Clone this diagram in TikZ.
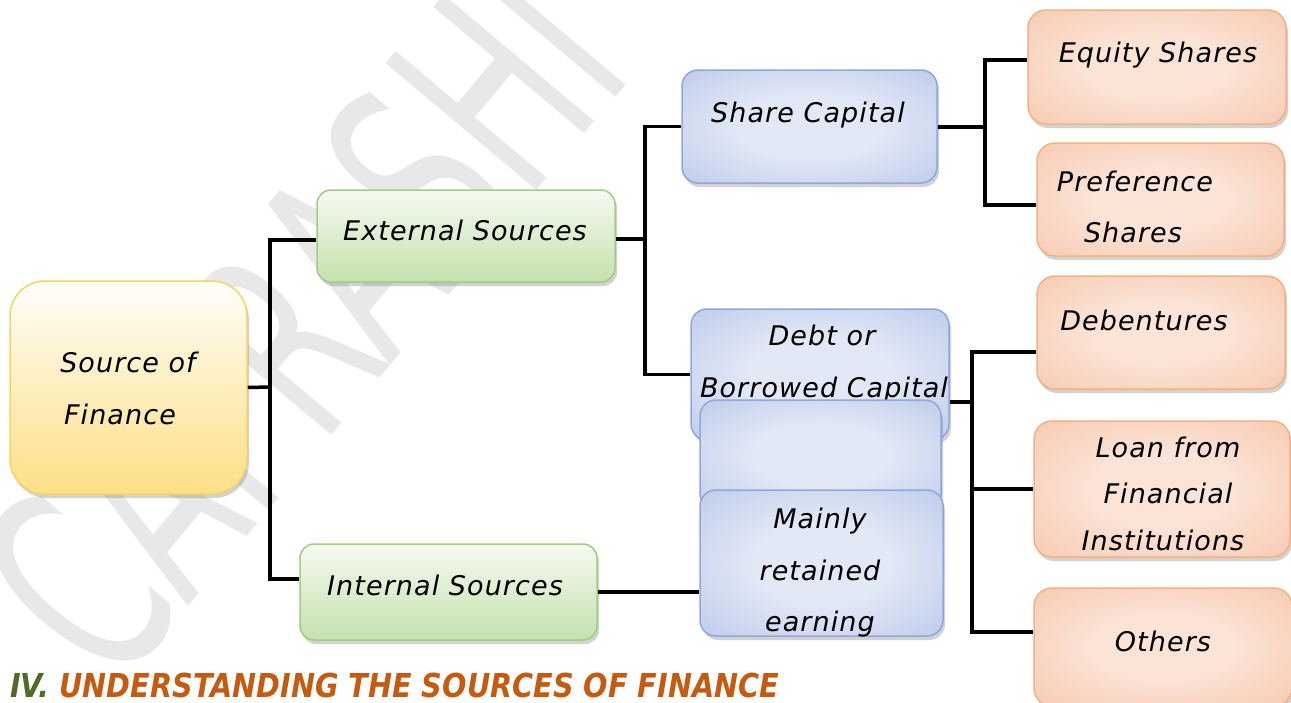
\documentclass[tikz,border=0pt]{standalone}
\usepackage{fontspec}
\setmainfont{DejaVu Sans}
\newfontfamily\hand[LetterSpace=4]{DejaVu Sans}
\newfontfamily\titlefont[FakeStretch=0.87]{DejaVu Sans}
\newfontfamily\wmfont[FakeStretch=0.6]{DejaVu Sans}
\usetikzlibrary{shadows}
\definecolor{ybord}{HTML}{F8D35E}
\definecolor{ytop}{HTML}{FFFEFA}
\definecolor{ybot}{HTML}{FDDF86}
\definecolor{gbord}{HTML}{A0CD84}
\definecolor{gtop}{HTML}{F6FAF2}
\definecolor{gbot}{HTML}{C4E1AC}
\definecolor{bbord}{HTML}{8FA7DC}
\definecolor{binner}{HTML}{E2E8F6}
\definecolor{bouter}{HTML}{94ABDD}
\definecolor{obord}{HTML}{F4B183}
\definecolor{oinner}{HTML}{FBE3D6}
\definecolor{oouter}{HTML}{F3AD82}
\definecolor{tgreen}{HTML}{4F6B28}
\definecolor{torange}{HTML}{C55A11}
\definecolor{wmgray}{HTML}{E8E8E8}
\pgfdeclareradialshading{bshade}{\pgfpoint{0bp}{0bp}}{color(0bp)=(binner); color(14bp)=(binner); color(38bp)=(binner!50!bouter); color(56bp)=(bouter); color(100bp)=(bouter)}
\pgfdeclareradialshading{oshade}{\pgfpoint{0bp}{0bp}}{color(0bp)=(oinner); color(14bp)=(oinner); color(38bp)=(oinner!50!oouter); color(56bp)=(oouter); color(100bp)=(oouter)}
\tikzset{
  box/.style={draw, line width=1.5pt, rounded corners=14pt, inner sep=0pt,
    drop shadow={shadow xshift=2pt, shadow yshift=-4pt, opacity=0.35}},
  ybox/.style={box, draw=ybord, top color=ytop, bottom color=ybot, rounded corners=35pt},
  gbox/.style={box, draw=gbord, top color=gtop, bottom color=gbot},
  bbox/.style={box, draw=bbord, shading=bshade, rounded corners=16pt},
  obox/.style={box, draw=obord, shading=oshade, rounded corners=18pt},
  txt/.style={font=\hand\itshape\fontsize{27}{30}\selectfont, text=black, inner sep=0pt, anchor=base},
  conn/.style={line width=3.5pt, black},
}
\begin{document}
\begin{tikzpicture}[x=1pt, y=-1pt]
\useasboundingbox (0,0) rectangle (1291,702);
\fill[white] (0,0) rectangle (1291,702);
% watermark
\node[text=wmgray, font=\wmfont\fontsize{270}{270}\selectfont, rotate=50, inner sep=0pt] (wm) at (300,320) {CAPRASHI};

% boxes
\node[ybox, minimum width=237pt, minimum height=213pt] (src) at (128.5,387.5) {};
\node[gbox, minimum width=298pt, minimum height=92pt] (ext) at (466,236) {};
\node[gbox, minimum width=297pt, minimum height=96pt] (int) at (448.5,592) {};
\node[bbox, minimum width=255pt, minimum height=113pt] (share) at (809.5,126.5) {};
\node[bbox, minimum width=258pt, minimum height=131pt] (debt) at (820,374.5) {};
\node[obox, minimum width=258pt, minimum height=114pt] (equity) at (1157,67) {};
\node[obox, minimum width=247pt, minimum height=113pt] (pref) at (1160.5,199.5) {};
\node[obox, minimum width=248pt, minimum height=113pt] (deb) at (1161,332.5) {};
\node[obox, minimum width=256pt, minimum height=136pt] (loan) at (1162,489) {};
\node[obox, minimum width=258pt, minimum height=118pt] (others) at (1163,647) {};

% texts
\node[txt] (tsrc1) at (128,372) {Source of};
\node[txt] (tsrc2) at (120,424) {Finance};
\node[txt] (text) at (465,240) {External Sources};
\node[txt] (tint) at (445,595) {Internal Sources};
\node[txt] (tshare) at (808,122) {Share Capital};
\node[txt] (tdebt1) at (822,345) {Debt or};
\node[txt] (tdebt2) at (824,397) {Borrowed Capital};
\node[txt] (teq) at (1158,62) {Equity Shares};
\node[txt] (tpref1) at (1135,191) {Preference};
\node[txt] (tpref2) at (1133,242) {Shares};
\node[txt] (tdeb) at (1144,330) {Debentures};
\node[txt] (tloan1) at (1168,457) {Loan from};
\node[txt] (tloan2) at (1168,503) {Financial};
\node[txt] (tloan3) at (1163,550) {Institutions};
\node[txt] (toth) at (1163,651) {Others};

% overlapping boxes
\node[bbox, minimum width=241pt, minimum height=110pt] (mid) at (820.5,455) {};
\node[bbox, minimum width=243pt, minimum height=146pt] (mainly) at (821.5,563) {};
\node[txt] (tm1) at (820,528) {Mainly};
\node[txt] (tm2) at (820,580) {retained};
\node[txt] (tm3) at (820,631) {earning};

% connectors
\coordinate (j1) at (270,387);
\coordinate (j2) at (645,239);
\coordinate (j3) at (985,127);
\coordinate (j4) at (972,402);
\draw[conn] (src.east) -- (j1);
\draw[conn] ([yshift=-4pt]ext.west) -| (j1);
\draw[conn] ([yshift=13pt]int.west) -| (j1);
\draw[conn] ([yshift=-3pt]ext.east) -- (j2);
\draw[conn] (share.west) -| (j2);
\draw[conn] (debt.west) -| (j2);
\draw[conn] ([yshift=-0.5pt]share.east) -- (j3);
\draw[conn] ([yshift=7pt]equity.west) -| (j3);
\draw[conn] ([yshift=-5.5pt]pref.west) -| (j3);
\draw[conn] ([yshift=-27.5pt]debt.east) -- (j4);
\draw[conn] ([yshift=-19.5pt]deb.west) -| (j4);
\draw[conn] (loan.west) -| (j4);
\draw[conn] ([yshift=15pt]others.west) -| (j4);
\draw[conn] (int.east) -- (int.east -| mainly.west);

% title
\node[anchor=base west, inner sep=0pt, font=\titlefont\bfseries\itshape\fontsize{33}{36}\selectfont] (title) at (10,697)
  {\textcolor{tgreen}{IV.} \textcolor{torange}{UNDERSTANDING THE SOURCES OF FINANCE}};
\end{tikzpicture}
\end{document}
